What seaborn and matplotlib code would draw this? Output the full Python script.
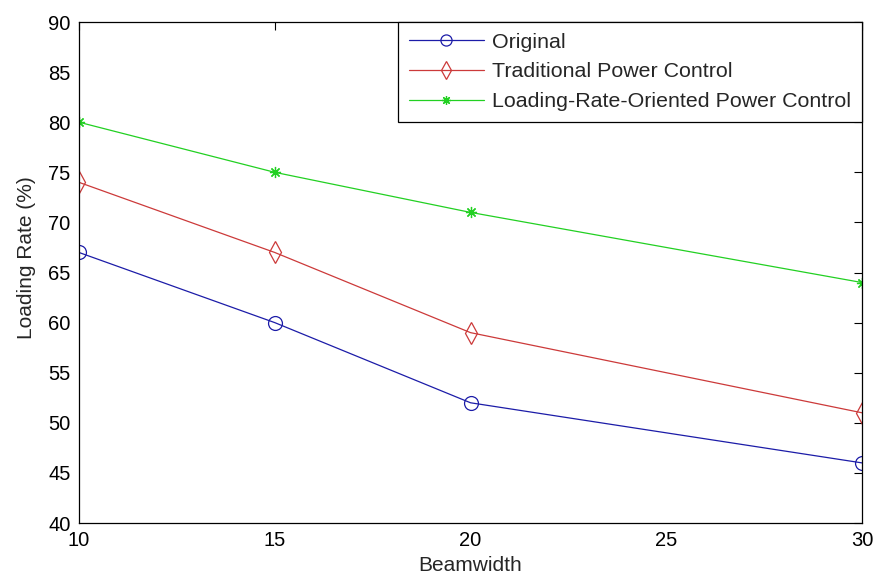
import pandas as pd
import seaborn as sns
import matplotlib.pyplot as plt

beamwidth = [10, 15, 20, 30]
original = [67, 60, 52, 46]
traditional = [74, 67, 59, 51]
lro = [80, 75, 71, 64]

series_names = ['Original', 'Traditional Power Control', 'Loading-Rate-Oriented Power Control']
series_colors = ['#1c1ca8', '#cc3a3a', '#22d022']
series_markers = ['o', 'd', (8, 2, 0)]
series_sizes = [10, 11, 8]

sns.set_style('white')
plt.rcParams['font.family'] = ['Liberation Sans', 'DejaVu Sans']

fig = plt.figure(figsize=(8.74, 5.81), dpi=100)
ax = fig.add_axes([0.0904, 0.0998, 0.8959, 0.8623])

for vals, name, col, mk, ms in zip([original, traditional, lro], series_names,
                                   series_colors, series_markers, series_sizes):
    df = pd.DataFrame({'x': beamwidth, 'y': vals})
    sns.lineplot(data=df, x='x', y='y', ax=ax, color=col, marker=mk, markersize=ms,
                 markerfacecolor='none', markeredgecolor=col, markeredgewidth=0.9,
                 linewidth=0.9, label=name)

ax.set_xlim(10, 30)
ax.set_ylim(40, 90)
ax.set_xticks([10, 15, 20, 25, 30])
ax.set_yticks(range(40, 91, 5))
ax.set_xlabel('Beamwidth', fontsize=15, labelpad=4)
ax.set_ylabel('Loading Rate (%)', fontsize=15)
ax.yaxis.set_label_coords(-0.055, 0.53)
ax.tick_params(direction='in', length=5.5, width=0.8, labelsize=14.5, top=True, right=True,
               colors='black', pad=6)
for sp in ax.spines.values():
    sp.set_visible(True)
    sp.set_color('black')
    sp.set_linewidth(0.9)

leg = ax.legend(loc='upper right', borderaxespad=0, fontsize=15.4, fancybox=False,
                framealpha=1, edgecolor='black', handlelength=3.5, handletextpad=0.4,
                labelspacing=0.5, borderpad=0.5, markerscale=0.8)
leg.get_frame().set_linewidth(0.9)

fig.savefig('out.png', dpi=100)
